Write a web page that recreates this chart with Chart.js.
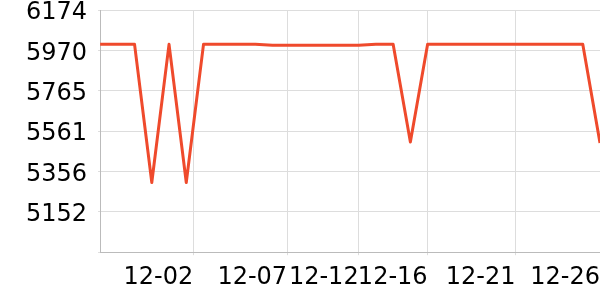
<!DOCTYPE html>
<html>
<head>
<meta charset="utf-8">
<script src="https://cdn.jsdelivr.net/npm/chart.js@4/dist/chart.umd.min.js"></script>
<style>
  html, body { margin: 0; padding: 0; background: #fff; }
  #chart { display: block; }
</style>
</head>
<body>
<canvas id="chart" width="600" height="300"></canvas>
<script>
// one value per sample, in order
const values = [
  6000, 6000, 6000, 5300, 6000, 5300, 6000, 6000, 6000, 6000,
  5996, 5996, 5996, 5996, 5996, 5996, 6000, 6000, 5505, 6000,
  6000, 6000, 6000, 6000, 6000, 6000, 6000, 6000, 6000, 5500,
];
// date labels and where they fall along the sample index
const tickLabels = ['12-02', '12-07', '12-12', '12-16', '12-21', '12-26'];
const tickAt = [5.4, 10.85, 15, 19, 24.1, 29];
const yMin = 4947;
const yMax = 6174;

const font = { family: 'DejaVu Sans', size: 24 };

// let the plot run to the canvas edges; layout.padding then sets the margins
const noEdgePadding = (scale) => {
  scale.paddingTop = 0;
  scale.paddingBottom = 0;
  scale.paddingLeft = 0;
  scale.paddingRight = 0;
};

new Chart(document.getElementById('chart'), {
  type: 'line',
  data: {
    datasets: [{
      data: values.map((v, i) => ({ x: i, y: v })),
      borderColor: '#ef4a2c',
      borderWidth: 3,
      borderJoinStyle: 'round',
      pointRadius: 0,
      tension: 0,
      fill: false,
    }],
  },
  options: {
    responsive: false,
    animation: false,
    layout: { padding: { left: 15, right: 0, top: 10, bottom: 0 } },
    plugins: { legend: { display: false }, tooltip: { enabled: false } },
    scales: {
      x: {
        type: 'linear',
        min: 0,
        max: values.length - 1,
        afterBuildTicks: (scale) => { scale.ticks = tickAt.map((v) => ({ value: v })); },
        afterFit: noEdgePadding,
        grid: { color: '#dddddd', tickLength: 3 },
        border: { color: '#bbbbbb' },
        ticks: {
          align: 'end',
          maxRotation: 0,
          autoSkip: false,
          padding: 8,
          color: '#000',
          font,
          callback: (v, i) => tickLabels[i],
        },
      },
      y: {
        min: yMin,
        max: yMax,
        afterFit: noEdgePadding,
        grid: { color: '#dddddd', tickLength: 2 },
        border: { color: '#bbbbbb' },
        ticks: {
          count: 7,
          padding: 11,
          labelOffset: 3,
          color: '#000',
          font,
          callback: (v, i) => (i === 0 ? '' : Math.round(v)),
        },
      },
    },
  },
});
</script>
</body>
</html>
